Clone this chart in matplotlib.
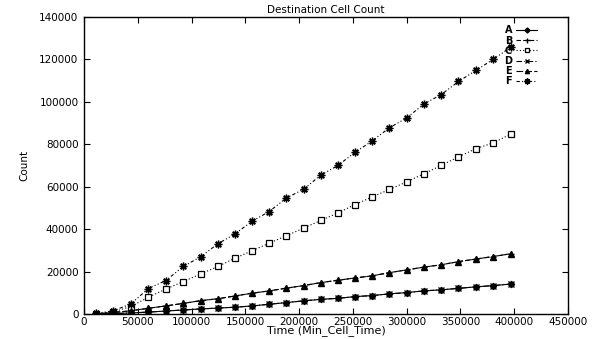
import matplotlib
matplotlib.use("Agg")
import matplotlib.pyplot as plt

# sample times (Min_Cell_Time)
times = [11000, 27000, 43400, 59800, 75900, 92300, 108500, 124500, 140300,
         156200, 172200, 188200, 204200, 220000, 236000, 252000, 268000,
         284000, 300000, 316000, 332000, 348200, 364300, 380400, 396600]

low = [0, 200, 500, 900, 1400, 1900, 2400, 2800, 3200, 3800, 4600, 5400,
       6200, 6900, 7400, 8200, 8700, 9500, 10100, 10900, 11400, 12100,
       12800, 13400, 14100]
mid = [100, 700, 1500, 2700, 3800, 5000, 6300, 7200, 8500, 9800, 10900,
       12200, 13400, 14800, 15900, 17000, 18000, 19500, 20800, 22100,
       23200, 24700, 25900, 27100, 28400]
count_c = [0, 1000, 3500, 7900, 11700, 15300, 18900, 22400, 26300, 29800,
           33400, 36900, 40500, 44100, 47600, 51600, 55200, 58700, 62300,
           66100, 70000, 74100, 77900, 80700, 84700]
count_f = [300, 1500, 4700, 12000, 15700, 22400, 27000, 33100, 37700, 43700,
           48300, 54700, 58800, 65400, 70000, 76200, 81600, 87800, 92400,
           99000, 103400, 109600, 114800, 120000, 125700]

labels = ["A", "B", "C", "D", "E", "F"]
series = [low, mid, count_c, low, mid, count_f]

styles = [
    dict(marker="D", ms=3.2, ls="-", mfc="black"),
    dict(marker="+", ms=4.5, ls=(0, (4, 2))),
    dict(marker="s", ms=3.8, ls=(0, (1, 2)), mfc="white", mew=0.9),
    dict(marker="x", ms=3.8, ls=(0, (5, 2, 1, 2)), mew=1.0),
    dict(marker="^", ms=3.8, ls=(0, (6, 2)), mfc="black"),
    dict(marker=(8, 2, 0), ms=5.5, ls=(0, (3, 2, 1, 2, 1, 2)), mew=1.0),
]

plt.rcParams["font.family"] = ["DejaVu Sans"]

fig = plt.figure(figsize=(5.97, 3.39), dpi=100)
ax = fig.add_axes([0.1407, 0.0737, 0.8107, 0.8762])

for lab, ys, st in zip(labels, series, styles):
    ax.plot(times, ys, color="black", lw=0.8, mec="black", label=lab, **st)

ax.set_xlim(0, 450000)
ax.set_ylim(0, 140000)
ax.set_xticks(range(0, 450001, 50000))
ax.set_yticks(range(0, 140001, 20000))
ax.tick_params(direction="in", top=True, right=True, labelsize=7.5, length=4,
               width=0.8)
ax.tick_params(axis="x", pad=2)
ax.tick_params(axis="y", pad=4)
for sp in ax.spines.values():
    sp.set_linewidth(1.0)

ax.set_title("Destination Cell Count", fontsize=7.5, pad=3)
ax.set_xlabel("Time (Min_Cell_Time)", fontsize=8, labelpad=-1)
ax.set_ylabel("Count", fontsize=7.5)
ax.yaxis.set_label_coords(-0.112, 0.5)

ax.legend(loc="upper right", bbox_to_anchor=(0.945, 0.985), frameon=False,
          markerfirst=False, prop={"size": 7, "weight": "bold"},
          handlelength=2.2, handletextpad=0.4, labelspacing=0.02,
          borderaxespad=0, markerscale=0.8)

fig.savefig("out.png", dpi=100)
